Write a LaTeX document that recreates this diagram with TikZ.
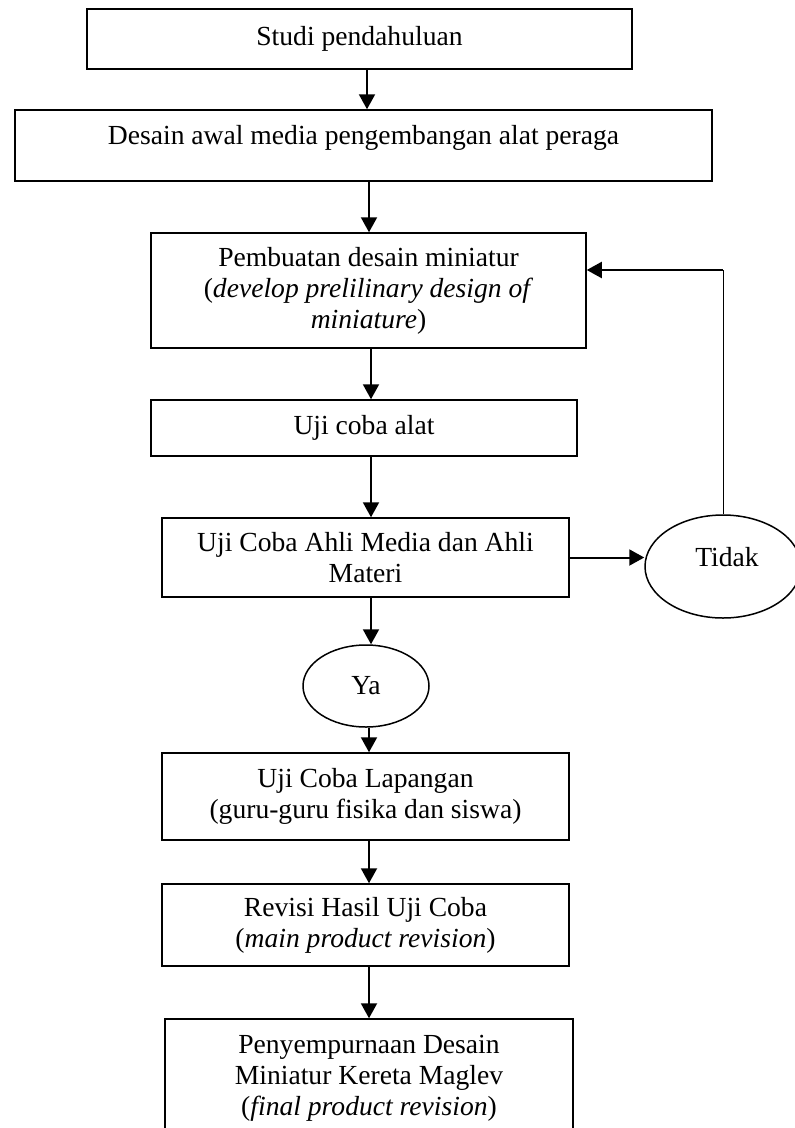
\documentclass[tikz,border=0pt]{standalone}
\usepackage{fontspec}
\setmainfont{Liberation Serif}
\usetikzlibrary{arrows.meta,shapes.geometric}
\begin{document}
\begin{tikzpicture}[x=1pt,y=-1pt,
  every node/.style={font=\fontsize{27.6}{31}\selectfont},
  box/.style={draw, line width=1.5pt, rectangle, align=center, inner sep=0pt},
  oval/.style={draw, line width=1.5pt, ellipse, inner sep=0pt},
  arr/.style={line width=2pt, -{Triangle[length=15pt,width=16pt]}},
  thinline/.style={line width=1pt}]
\useasboundingbox (0,0) rectangle (795,1128);
\fill[white] (0,0) rectangle (795,1128);

\node[box, minimum width=545, minimum height=60] (b1) at (359.5,39) {Studi pendahuluan};
\node[box, minimum width=697, minimum height=71] (b2) at (363.5,145.5) {};
\node (t2) at ([yshift=8]b2.center) {Desain awal media pengembangan alat peraga};
\node[box, minimum width=435, minimum height=115] (b3) at (368.5,290.5) {Pembuatan desain miniatur\\(\textit{develop prelilinary design of}\\\textit{miniature})};
\node[box, minimum width=426, minimum height=56] (b4) at (364,428) {Uji coba alat};
\node[box, minimum width=407, minimum height=79] (b5) at (365.5,557.5) {Uji Coba Ahli Media dan Ahli\\Materi};
\node[oval, minimum width=156, minimum height=103] (tidak) at (723,566.5) {};
\node (tt) at ([yshift=9,xshift=4]tidak.center) {Tidak};
\node[oval, minimum width=126, minimum height=82] (ya) at (366,686) {Ya};
\node[box, minimum width=407, minimum height=87] (b6) at (365.5,796.5) {Uji Coba Lapangan\\(guru-guru fisika dan siswa)};
\node[box, minimum width=407, minimum height=82] (b7) at (365.5,925) {Revisi Hasil Uji Coba\\(\textit{main product revision})};
\node[box, minimum width=408, minimum height=118] (b8) at (369,1078) {Penyempurnaan Desain\\Miniatur Kereta Maglev\\(\textit{final product revision})};

\coordinate (fb) at (723,270);

\draw[arr] ([xshift=7.5]b1.south) -- ([xshift=7.5]b1.south |- b2.north);
\draw[arr] ([xshift=5.5]b2.south) -- ([xshift=5.5]b2.south |- b3.north);
\draw[arr] ([xshift=2.5]b3.south) -- ([xshift=2.5]b3.south |- b4.north);
\draw[arr] ([xshift=7]b4.south) -- ([xshift=7]b4.south |- b5.north);
\draw[arr] ([xshift=5.5]b5.south) -- ([xshift=5.5]b5.south |- ya.north);
\draw[arr] ([xshift=3]ya.south) -- ([xshift=3]ya.south |- b6.north);
\draw[arr] ([xshift=3.5]b6.south) -- ([xshift=3.5]b6.south |- b7.north);
\draw[arr] ([xshift=3.5]b7.south) -- ([xshift=3.5]b7.south |- b8.north);
\draw[arr] (b5.east) -- (b5.east -| tidak.west);
\draw[thinline] (tidak.north) -- (fb);
\draw[arr] (fb) -- (fb -| b3.east);
\end{tikzpicture}
\end{document}
